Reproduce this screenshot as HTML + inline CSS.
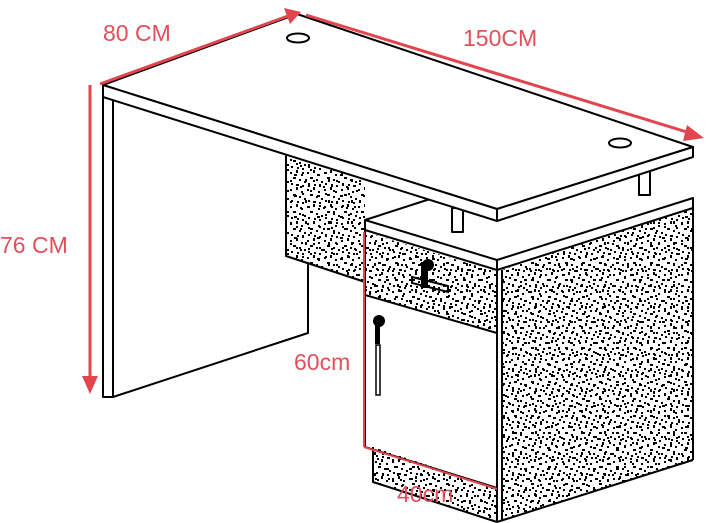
<!DOCTYPE html>
<html><head><meta charset="utf-8"><style>
html,body{margin:0;padding:0;background:#fff;}
svg{display:block;}
text{font-family:"Liberation Sans",sans-serif;fill:#e0505a;font-size:23px;}
</style></head><body>
<svg width="707" height="523" viewBox="0 0 707 523" xmlns="http://www.w3.org/2000/svg">
<defs>
<pattern id="p1" width="17" height="17" patternUnits="userSpaceOnUse">
<rect x="1" y="2" width="2" height="2"/><rect x="7" y="0" width="2" height="3"/><rect x="12" y="4" width="2" height="2"/>
<rect x="4" y="7" width="3" height="2"/><rect x="10" y="9" width="2" height="2"/><rect x="15" y="11" width="2" height="2"/>
<rect x="2" y="13" width="2" height="2"/><rect x="8" y="14" width="2" height="2"/><rect x="13" y="15" width="2" height="2"/>
</pattern>
<pattern id="p2" width="23" height="21" patternUnits="userSpaceOnUse">
<rect x="3" y="4" width="2" height="2"/><rect x="11" y="1" width="2" height="2"/><rect x="18" y="6" width="3" height="2"/>
<rect x="6" y="11" width="2" height="3"/><rect x="14" y="12" width="2" height="2"/><rect x="20" y="16" width="2" height="2"/>
<rect x="1" y="18" width="2" height="2"/><rect x="9" y="17" width="2" height="2"/>
</pattern>
</defs>
<g>
<polygon points="286,150 365,175 365,282 286,256" fill="url(#p1)"/>
<polygon points="286,150 365,175 365,282 286,256" fill="url(#p2)"/>
<polygon points="502,270 693,208 693,460 502,520" fill="url(#p1)"/>
<polygon points="502,270 693,208 693,460 502,520" fill="url(#p2)"/>
<polygon points="365,232 497,272 497,333 365,295" fill="url(#p1)"/>
<polygon points="365,232 497,272 497,333 365,295" fill="url(#p2)"/>
<polygon points="373,447 497,488 497,522 373,482" fill="url(#p1)"/>
<polygon points="373,447 497,488 497,522 373,482" fill="url(#p2)"/>
</g>
<g fill="none" stroke="#000" stroke-width="2" stroke-linejoin="round">
<polyline points="286,150 286,256 365,282"/>
<polyline points="103,97 103,397 113,397 308,333 308,262"/>
<line x1="113" y1="100" x2="113" y2="397"/>
<rect x="452" y="208" width="11" height="24" fill="#fff"/>
<rect x="639" y="170" width="11" height="25" fill="#fff"/>
<polygon points="365,220 497,260 693,198 693,208 497,270 365,230" fill="#fff"/>
<line x1="365" y1="220" x2="455" y2="191"/>
<line x1="497" y1="260" x2="497" y2="522"/>
<line x1="693" y1="208" x2="693" y2="460"/>
<line x1="693" y1="460" x2="497" y2="522"/>
<line x1="365" y1="230" x2="365" y2="447"/>
<line x1="365" y1="295" x2="497" y2="333"/>
<line x1="365" y1="447" x2="497" y2="488"/>
<polyline points="373,447 373,482 497,522"/>
<line x1="502" y1="270" x2="502" y2="520"/>
<polygon points="103,85 297,14 693,147 497,209" fill="#fff"/>
<polygon points="103,85 497,209 497,221 103,97" fill="#fff"/>
<polygon points="497,209 693,147 693,157 497,221" fill="#fff"/>
<ellipse cx="298" cy="38" rx="11" ry="4.5"/>
<ellipse cx="620" cy="143" rx="11" ry="4.5"/>
</g>
<g fill="#000">
<circle cx="428" cy="265" r="6"/><rect x="421" y="262" width="7" height="26"/>
<polygon points="412,277 448,286 448,292 412,283" fill="none" stroke="#000" stroke-width="2"/>
<circle cx="379" cy="321" r="6"/><rect x="375" y="322" width="5" height="22"/>
<rect x="376" y="345" width="4" height="50" fill="#fff" stroke="#000" stroke-width="1.5"/>
</g>
<g stroke="#e3454f" stroke-width="3" fill="#e3454f">
<line x1="100" y1="84" x2="288" y2="16"/>
<polygon points="301,12 284,8 290,24" stroke="none"/>
<line x1="306" y1="15" x2="690" y2="133"/>
<polygon points="704,138 687,125 683,141" stroke="none"/>
<line x1="90" y1="85" x2="90" y2="378"/>
<polygon points="90,394 82,376 98,376" stroke="none"/>
<line x1="364" y1="232" x2="364" y2="447" stroke-width="2"/>
<line x1="364" y1="447" x2="497" y2="489" stroke-width="2"/>
</g>
<text x="103" y="41">80 CM</text>
<text x="463" y="46">150CM</text>
<text x="0" y="253">76 CM</text>
<text x="294" y="370">60cm</text>
<text x="397" y="502">40cm</text>
</svg>
</body></html>
